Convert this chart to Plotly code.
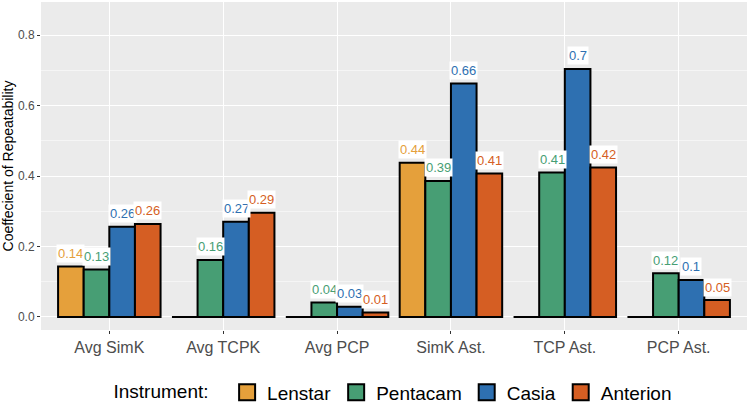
import plotly.graph_objects as go

categories = ["Avg SimK", "Avg TCPK", "Avg PCP", "SimK Ast.", "TCP Ast.", "PCP Ast."]
instruments = ["Lenstar", "Pentacam", "Casia", "Anterion"]

lenstar = [0.143, 0.0, 0.0, 0.438, 0.0, 0.0]
pentacam = [0.135, 0.162, 0.041, 0.386, 0.41, 0.124]
casia = [0.256, 0.27, 0.029, 0.663, 0.704, 0.105]
anterion = [0.264, 0.296, 0.013, 0.407, 0.424, 0.048]

lenstar_lbl = ["0.14", "", "", "0.44", "", ""]
pentacam_lbl = ["0.13", "0.16", "0.04", "0.39", "0.41", "0.12"]
casia_lbl = ["0.26", "0.27", "0.03", "0.66", "0.7", "0.1"]
anterion_lbl = ["0.26", "0.29", "0.01", "0.41", "0.42", "0.05"]

colors = ["#E5A03B", "#479E74", "#2E70B1", "#D55E23"]

series = [lenstar, pentacam, casia, anterion]
labels = [lenstar_lbl, pentacam_lbl, casia_lbl, anterion_lbl]

font = "Liberation Sans, Arial, sans-serif"
xpos = list(range(len(categories)))
bw = 0.225

fig = go.Figure()
annots = []
for k, (name, vals, lbls, col) in enumerate(zip(instruments, series, labels, colors)):
    off = (k - 1.5) * bw
    fig.add_trace(go.Bar(
        x=[p + off for p in xpos], y=vals, width=bw, name=name,
        marker=dict(color=col, line=dict(color="black", width=2)),
        showlegend=False,
    ))
    # legend swatch
    fig.add_trace(go.Scatter(
        x=[None], y=[None], mode="markers", name=name,
        marker=dict(symbol="square", size=16, color=col,
                    line=dict(color="black", width=2)),
    ))
    for p, v, t in zip(xpos, vals, lbls):
        if t:
            annots.append(dict(
                x=p + off, y=v, text=t, showarrow=False, yshift=13,
                font=dict(color=col, size=13, family=font),
                bgcolor="white", borderpad=1,
            ))

fig.update_layout(
    width=750, height=403,
    margin=dict(l=41, r=3, t=2, b=73, autoexpand=False),
    plot_bgcolor="#EBEBEB", paper_bgcolor="white",
    font=dict(family=font, color="#4D4D4D"),
    annotations=annots,
    legend=dict(
        orientation="h", x=0.5, xanchor="center", y=-0.19, yanchor="middle",
        title=dict(text="Instrument:  ", font=dict(size=19, color="black")),
        font=dict(size=19, color="black"), itemsizing="trace",
    ),
)
fig.update_xaxes(
    tickvals=xpos, ticktext=categories, range=[-0.6, 5.6], automargin=False,
    showgrid=True, gridcolor="white", gridwidth=1,
    ticks="outside", ticklen=3, tickcolor="#333333",
    tickfont=dict(size=16, color="#4D4D4D"), zeroline=False,
)
fig.update_yaxes(
    title=dict(text="Coeffecient of Repeatability", font=dict(size=14, color="black"), standoff=4),
    range=[-0.037, 0.894], tickvals=[0, 0.2, 0.4, 0.6, 0.8], automargin=False,
    ticktext=["0.0", "0.2", "0.4", "0.6", "0.8"],
    showgrid=True, gridcolor="white", gridwidth=1.2,
    minor=dict(tickvals=[0.1, 0.3, 0.5, 0.7], showgrid=True, gridcolor="#F5F5F5", gridwidth=0.6),
    ticks="outside", ticklen=3, tickcolor="#333333",
    tickfont=dict(size=12, color="#4D4D4D"), zeroline=False,
)

fig.write_html("out.html", config={"displayModeBar": False},
               post_script="document.body.style.margin='0';")
